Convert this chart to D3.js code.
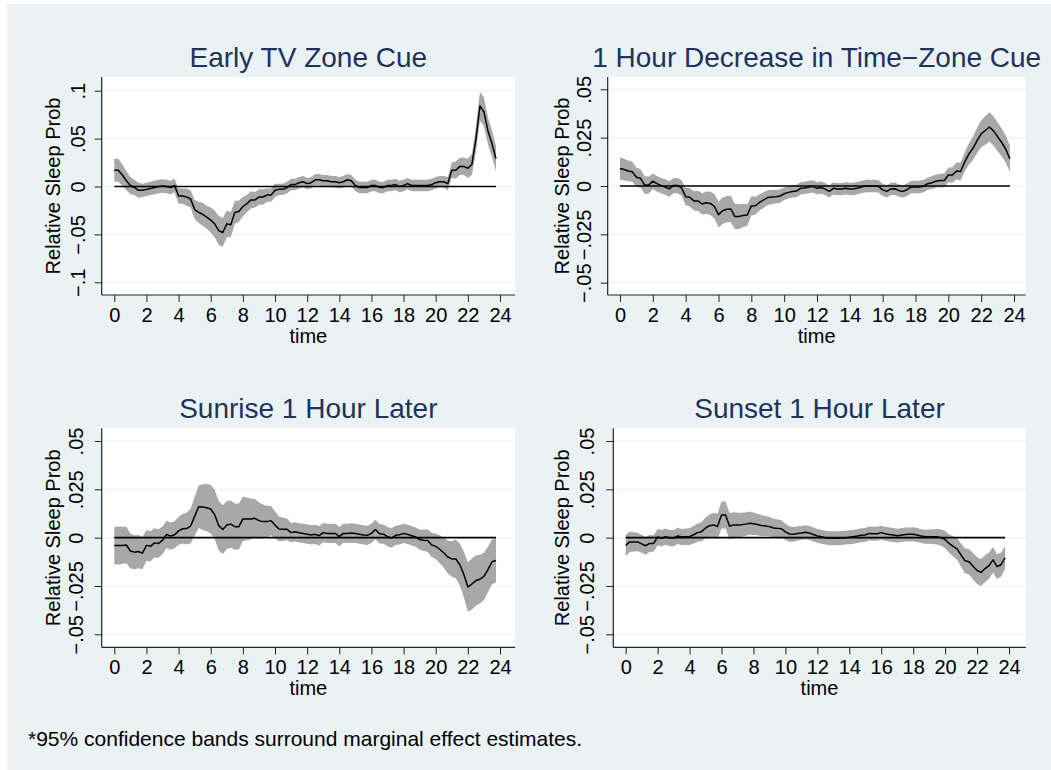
<!DOCTYPE html>
<html>
<head>
<meta charset="utf-8">
<script src="https://cdn.jsdelivr.net/npm/d3@7"></script>
<style>
body { margin: 0; background: #fff; }
svg { display: block; font-family: "Liberation Sans", Arial, Helvetica, sans-serif; }
</style>
</head>
<body>
<svg id="fig"></svg>
<script>
const width = 1051
const height = 770

// quarter-hour grid the estimates are reported on
const times = d3.range(0, 24, 0.25)
const xTicks = [0, 2, 4, 6, 8, 10, 12, 14, 16, 18, 20, 22, 24]
const yTicksWide = [-.1, -.05, 0, .05, .1]
const yTicksNarrow = [-.05, -.025, 0, .025, .05]

const panelTitles = ["Early TV Zone Cue", "1 Hour Decrease in Time\u2212Zone Cue",
    "Sunrise 1 Hour Later", "Sunset 1 Hour Later"]
const yTitle = "Relative Sleep Prob"
const xTitle = "time"
const footnote = "*95% confidence bands surround marginal effect estimates."

// point estimates and half-widths of the 95% bands, 8 values per 2 hours
const earlyTvEst = [
    .017, .017, .012, .006, .001, -.001, -.004, -.004,
    -.003, -.002, -.001, 0, .0005, 0, -.001, .001,
    -.010, -.010, -.011, -.013, -.024, -.027, -.029, -.032,
    -.035, -.039, -.046, -.048, -.039, -.040, -.027, -.026,
    -.021, -.018, -.014, -.014, -.011, -.011, -.009, -.009,
    -.004, -.003, -.003, -.001, .002, .002, .004, .005,
    .003, .004, .007, .007, .006, .006, .005, .005,
    .004, .005, .007, .006, .001, -.001, -.001, -.001,
    .001, .001, -.001, -.001, .001, .001, .002, 0,
    .001, .003, .001, .001, .001, .001, .001, .002,
    .004, .005, .005, .003, .017, .017, .021, .021,
    .019, .023, .049, .084, .078, .058, .045, .029]
const earlyTvHw = [
    .012, .012, .011, .010, .009, .008, .008, .007,
    .007, .007, .007, .007, .007, .007, .007, .007,
    .008, .008, .009, .009, .010, .011, .012, .012,
    .013, .014, .015, .015, .014, .013, .012, .011,
    .010, .009, .009, .008, .008, .008, .007, .007,
    .007, .006, .006, .006, .006, .006, .006, .006,
    .006, .006, .006, .006, .006, .006, .006, .006,
    .006, .006, .006, .006, .006, .006, .006, .006,
    .006, .006, .006, .006, .006, .006, .006, .006,
    .006, .006, .006, .006, .006, .006, .006, .006,
    .006, .006, .006, .007, .008, .009, .009, .009,
    .010, .011, .013, .015, .015, .014, .014, .013]

const tzDecreaseEst = [
    .009, .0085, .0078, .0074, .0045, .004, .0005, .0005,
    .0025, .0012, .0003, -.0005, -.0015, .0002, .0002, -.001,
    -.0055, -.0058, -.0077, -.0077, -.0093, -.0087, -.009, -.0105,
    -.0148, -.0128, -.012, -.0119, -.0158, -.0158, -.0152, -.015,
    -.0103, -.0102, -.0085, -.0072, -.006, -.0057, -.0055, -.0052,
    -.004, -.0033, -.0028, -.0026, -.0012, -.001, -.0005, -.0002,
    -.0012, -.0008, -.0016, -.0028, -.0012, -.0016, -.0016, -.0012,
    -.0016, -.0014, -.001, -.0004, 0, 0, 0, -.0002,
    -.002, -.0028, -.0015, -.0014, -.0024, -.0028, -.0018, -.0005,
    -.0005, -.0005, 0, .0012, .0017, .0025, .0028, .0028,
    .0057, .0057, .0078, .0075, .0125, .0165, .0195, .0235,
    .027, .0287, .0305, .0285, .0255, .0225, .019, .014]
const tzDecreaseHw = [
    .0058, .0056, .0054, .0052, .005, .0048, .0046, .0044,
    .004, .004, .004, .004, .004, .004, .004, .004,
    .0045, .0048, .005, .0052, .0055, .0058, .006, .0063,
    .0066, .0068, .0068, .0068, .0066, .0064, .006, .0056,
    .005, .0046, .0042, .004, .0038, .0036, .0035, .0034,
    .0032, .0032, .0032, .0032, .0032, .0032, .0032, .0032,
    .0032, .0032, .0032, .0032, .0032, .0032, .0032, .0032,
    .0032, .0032, .0032, .0032, .0032, .0032, .0032, .0032,
    .0032, .0032, .0032, .0032, .0032, .0032, .0032, .0032,
    .0032, .0032, .0032, .0032, .0033, .0034, .0035, .0036,
    .0038, .004, .0043, .0046, .005, .0055, .006, .0066,
    .007, .0074, .0076, .0076, .0074, .0072, .007, .0068]

const sunriseEst = [
    -.0041, -.0041, -.004, -.0038, -.0069, -.0075, -.0072, -.008,
    -.004, -.0045, -.0027, -.003, -.0014, .0017, .0008, .0015,
    .0035, .0046, .0047, .006, .011, .016, .0158, .0155,
    .0148, .0118, .0062, .0042, .0065, .007, .0057, .0057,
    .0097, .0097, .0097, .01, .0088, .0083, .0083, .0088,
    .0065, .0045, .0043, .0043, .0026, .003, .0025, .0022,
    .0018, .0014, .0017, .001, .0026, .0022, .0022, .0022,
    .0005, .0022, .0022, .0024, .0022, .0018, .0014, .0012,
    .0022, .0042, .002, .0018, .0005, -.0002, .0012, .0015,
    .0022, .0017, .001, .0003, -.001, -.0014, -.0015, -.0038,
    -.0045, -.006, -.0078, -.01, -.011, -.011, -.014, -.019,
    -.0255, -.024, -.0222, -.0215, -.02, -.0165, -.0125, -.0118]
const sunriseHw = [
    .0098, .0098, .0096, .0094, .009, .0088, .0086, .0084,
    .008, .0078, .0076, .0074, .0072, .007, .007, .007,
    .0072, .0076, .0082, .009, .01, .011, .0118, .0122,
    .0126, .0128, .0128, .0126, .0124, .0122, .012, .0118,
    .0114, .011, .0106, .01, .0094, .0088, .0082, .0076,
    .007, .0064, .006, .0056, .005, .005, .005, .005,
    .005, .005, .005, .005, .005, .005, .005, .005,
    .005, .005, .005, .005, .005, .005, .005, .005,
    .005, .005, .005, .005, .005, .005, .005, .005,
    .005, .005, .005, .005, .0052, .0055, .0058, .0062,
    .0066, .0072, .0078, .0085, .0092, .01, .0108, .0118,
    .0128, .0132, .013, .0126, .0122, .0118, .0116, .0114]

const sunsetEst = [
    -.004, -.0022, -.0022, -.0022, -.0032, -.0042, -.003, -.003,
    .0003, -.0003, .0005, -.0002, -.0002, .0009, .0003, .0005,
    .0005, .0015, .0026, .0031, .005, .0062, .0066, .0058,
    .0117, .0117, .006, .0065, .0065, .0067, .007, .0075,
    .0072, .0068, .0063, .006, .0057, .005, .0048, .0046,
    .003, .0019, .0017, .0022, .0024, .0028, .0024, .0016,
    .0009, .0005, 0, -.0003, -.0003, -.0003, -.0002, 0,
    .0002, .0005, .0008, .0012, .0014, .0022, .002, .002,
    .0026, .002, .0016, .0014, .001, .0013, .0016, .0017,
    .0018, .0014, .0008, .0005, .0005, .0005, .0005, 0,
    -.001, -.003, -.0045, -.0058, -.009, -.012, -.0125, -.0148,
    -.017, -.018, -.016, -.0145, -.0115, -.015, -.014, -.0105]
const sunsetHw = [
    .0055, .0052, .005, .0048, .0046, .0045, .0044, .0043,
    .0042, .0042, .0042, .0042, .0042, .0042, .0042, .0042,
    .0043, .0045, .0047, .005, .0054, .0058, .0062, .0066,
    .007, .007, .0068, .0066, .0064, .0062, .006, .006,
    .0058, .0056, .0054, .0052, .005, .0048, .0046, .0044,
    .0042, .004, .0038, .0037, .0036, .0036, .0036, .0036,
    .0036, .0036, .0036, .0036, .0036, .0036, .0036, .0036,
    .0036, .0036, .0036, .0036, .0036, .0036, .0036, .0036,
    .0036, .0036, .0036, .0036, .0036, .0036, .0036, .0036,
    .0036, .0036, .0036, .0036, .0037, .0038, .004, .0042,
    .0045, .0048, .0052, .0056, .006, .0064, .0066, .0068,
    .007, .007, .007, .0068, .0066, .0064, .0062, .006]

// layout of the four plot regions (pixel positions, stata-like margins)
const panels = [
    {title: panelTitles[0], est: earlyTvEst, hw: earlyTvHw, yTicks: yTicksWide,
     left: 101.7, right: 515, top: 77, bottom: 295, xr: [114.3, 500], yr: [282.3, 90.7],
     tickX: 85, titleX: 59.5},
    {title: panelTitles[1], est: tzDecreaseEst, hw: tzDecreaseHw, yTicks: yTicksNarrow,
     left: 607.7, right: 1025.7, top: 77, bottom: 295, xr: [620, 1014], yr: [282.7, 89.3],
     tickX: 591, titleX: 569},
    {title: panelTitles[2], est: sunriseEst, hw: sunriseHw, yTicks: yTicksNarrow,
     left: 101.7, right: 515, top: 428.3, bottom: 647.3, xr: [114.3, 500], yr: [634.3, 441],
     tickX: 83, titleX: 59.5},
    {title: panelTitles[3], est: sunsetEst, hw: sunsetHw, yTicks: yTicksNarrow,
     left: 613.3, right: 1025.7, top: 428.3, bottom: 647.3, xr: [625.7, 1009], yr: [634.3, 441],
     tickX: 594, titleX: 569}
]

const fontFamily = '"Liberation Sans", Arial, Helvetica, sans-serif'

function fmtY(v) {
    if (v === 0) return "0"
    return (v < 0 ? "\u2212" : "") + String(Math.abs(v)).replace(/^0/, "")
}

function drawPanel(svg, p) {
    const x = d3.scaleLinear().domain([0, 24]).range(p.xr)
    const y = d3.scaleLinear().domain([p.yTicks[0], p.yTicks[p.yTicks.length - 1]]).range(p.yr)
    const rows = times.map((t, i) => ({t: t, v: p.est[i], h: p.hw[i]}))
    const g = svg.append('g')

    g.append('rect')
        .attr('x', p.left).attr('y', p.top)
        .attr('width', p.right - p.left).attr('height', p.bottom - p.top)
        .attr('fill', '#fff')

    g.selectAll('.grid')
        .data(p.yTicks)
        .enter().append('line')
        .attr('class', 'grid')
        .attr('x1', p.left).attr('x2', p.right)
        .attr('y1', d => y(d)).attr('y2', d => y(d))
        .attr('stroke', '#eaf2f3')
        .attr('stroke-width', 1.2)

    g.append('path')
        .datum(rows)
        .attr('fill', '#a8a8a8')
        .attr('d', d3.area()
            .x(d => x(d.t))
            .y0(d => y(d.v - d.h))
            .y1(d => y(d.v + d.h)))

    g.append('line')
        .attr('x1', x(times[0])).attr('x2', x(times[times.length - 1]))
        .attr('y1', y(0)).attr('y2', y(0))
        .attr('stroke', '#000')
        .attr('stroke-width', 1.6)

    g.append('path')
        .datum(rows)
        .attr('fill', 'none')
        .attr('stroke', '#000')
        .attr('stroke-width', 1.5)
        .attr('stroke-linejoin', 'round')
        .attr('d', d3.line().x(d => x(d.t)).y(d => y(d.v)))

    // y axis with rotated labels
    const ya = g.append('g')
        .attr('transform', `translate(${p.left},0)`)
        .call(d3.axisLeft(y).tickValues(p.yTicks).tickSize(7).tickSizeOuter(0).tickFormat(fmtY))
    ya.select('.domain').remove()
    ya.selectAll('line').attr('stroke', '#222')
    ya.selectAll('text')
        .attr('x', 0).attr('dy', null)
        .attr('text-anchor', 'middle')
        .attr('transform', `translate(${p.tickX - p.left},0) rotate(-90)`)
        .attr('fill', '#000')
        .style('font-size', '20px')
        .style('font-family', fontFamily)

    const xa = g.append('g')
        .attr('transform', `translate(0,${p.bottom})`)
        .call(d3.axisBottom(x).tickValues(xTicks).tickSize(7).tickSizeOuter(0))
    xa.select('.domain').remove()
    xa.selectAll('line').attr('stroke', '#222')
    xa.selectAll('text')
        .attr('y', 27).attr('dy', null)
        .attr('fill', '#000')
        .style('font-size', '20px')
        .style('font-family', fontFamily)

    g.append('line')
        .attr('x1', p.left).attr('x2', p.left)
        .attr('y1', p.top).attr('y2', p.bottom)
        .attr('stroke', '#222').attr('stroke-width', 1.2)
    g.append('line')
        .attr('x1', p.left).attr('x2', p.right)
        .attr('y1', p.bottom).attr('y2', p.bottom)
        .attr('stroke', '#222').attr('stroke-width', 1.2)

    const cx = (p.left + p.right) / 2
    g.append('text')
        .attr('x', cx).attr('y', p.bottom + 48)
        .attr('text-anchor', 'middle')
        .style('font-size', '20px')
        .text(xTitle)
    g.append('text')
        .attr('transform', `translate(${p.titleX},${(p.top + p.bottom) / 2}) rotate(-90)`)
        .attr('text-anchor', 'middle')
        .style('font-size', '20px')
        .text(yTitle)
    g.append('text')
        .attr('x', cx).attr('y', p.top - 10.5)
        .attr('text-anchor', 'middle')
        .attr('fill', '#1e3260')
        .style('font-size', '28px')
        .text(p.title)
}

const svg = d3.select('#fig')
    .attr('width', width)
    .attr('height', height)

svg.append('rect')
    .attr('x', 7).attr('y', 4)
    .attr('width', width - 7).attr('height', height - 4)
    .attr('fill', '#eaf2f3')

panels.forEach(p => drawPanel(svg, p))

svg.append('text')
    .attr('x', 28).attr('y', 746)
    .style('font-size', '21px')
    .text(footnote)
</script>
</body>
</html>
